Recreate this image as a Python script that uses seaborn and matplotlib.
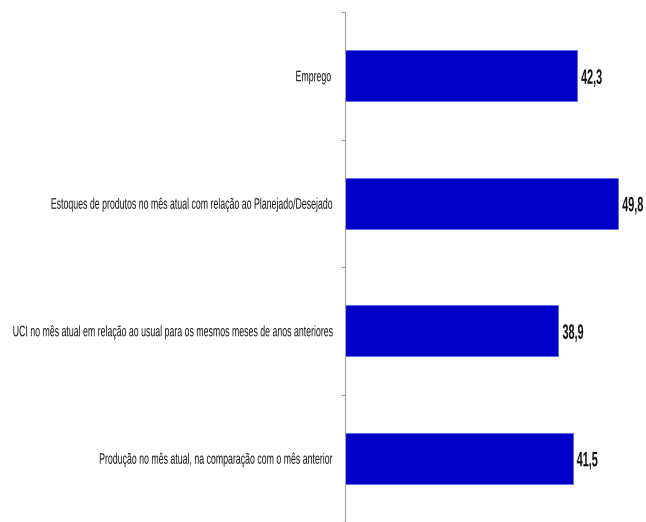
import matplotlib
matplotlib.use("Agg")
import matplotlib.pyplot as plt
import seaborn as sns
import pandas as pd
from matplotlib.ticker import FixedLocator
from matplotlib.patheffects import AbstractPathEffect
from matplotlib.transforms import Affine2D, Bbox

# Categories (top to bottom) and values
categorias = [
    "Emprego",
    "Estoques de produtos no mês atual com relação ao Planejado/Desejado",
    "UCI no mês atual em relação ao usual para os mesmos meses de anos anteriores",
    "Produção no mês atual, na comparação com o mês anterior",
]
valores = [42.3, 49.8, 38.9, 41.5]
rotulos = ["42,3", "49,8", "38,9", "41,5"]

df = pd.DataFrame({"categoria": categorias, "valor": valores})


# squeeze text horizontally (the original uses a narrow font)
class Squeeze(AbstractPathEffect):
    def __init__(self, sx, anchor="left"):
        super().__init__()
        self.sx = sx
        self.anchor = anchor

    def draw_path(self, renderer, gc, tpath, affine, rgbFace=None):
        ext = tpath.get_extents()
        x0 = ext.x1 if self.anchor == "right" else ext.x0
        t = Affine2D().translate(-x0, 0).scale(self.sx, 1).translate(x0, 0) + affine
        renderer.draw_path(gc, tpath, t, rgbFace)


def squeeze_text(txt, sx, anchor):
    txt.set_path_effects([Squeeze(sx, anchor)])
    orig = txt.get_window_extent

    # keep the reported extent in line with what is drawn
    def extent(renderer=None, dpi=None):
        bb = orig(renderer, dpi)
        w = bb.width * sx
        if anchor == "right":
            return Bbox([[bb.x1 - w, bb.y0], [bb.x1, bb.y1]])
        return Bbox([[bb.x0, bb.y0], [bb.x0 + w, bb.y1]])

    txt.get_window_extent = extent


sns.set_style("white")
plt.rcParams["font.family"] = ["Liberation Sans", "DejaVu Sans"]

fig = plt.figure(figsize=(6.46, 5.22), dpi=100)
ax = fig.add_axes([0.534, 0.0, 0.457, 0.977])

sns.barplot(data=df, x="valor", y="categoria", color="#0000C8", width=0.4,
            saturation=1, edgecolor="#5a6ee0", linewidth=0.6, ax=ax)

for i, (v, r) in enumerate(zip(valores, rotulos)):
    t = ax.text(v + 0.7, i + 0.02, r, va="center", ha="left", fontsize=15,
                fontweight="bold", color="#111111")
    squeeze_text(t, 0.52, "left")

ax.set_xlim(0, 53.8)
ax.set_ylim(3.5, -0.5)
ax.set_xlabel("")
ax.set_ylabel("")
ax.set_xticks([])

for s in ["top", "right", "bottom"]:
    ax.spines[s].set_visible(False)
ax.spines["left"].set_color("#a0a0a0")
ax.spines["left"].set_linewidth(0.8)

ax.tick_params(axis="y", which="major", length=0, pad=10, labelsize=11, labelcolor="#151515")
ax.yaxis.set_minor_locator(FixedLocator([-0.5, 0.5, 1.5, 2.5, 3.5]))
ax.tick_params(axis="y", which="minor", length=3, width=0.8, color="#a0a0a0", left=True)

for lab in ax.get_yticklabels():
    squeeze_text(lab, 0.575, "right")

fig.savefig("out.png", dpi=100)
